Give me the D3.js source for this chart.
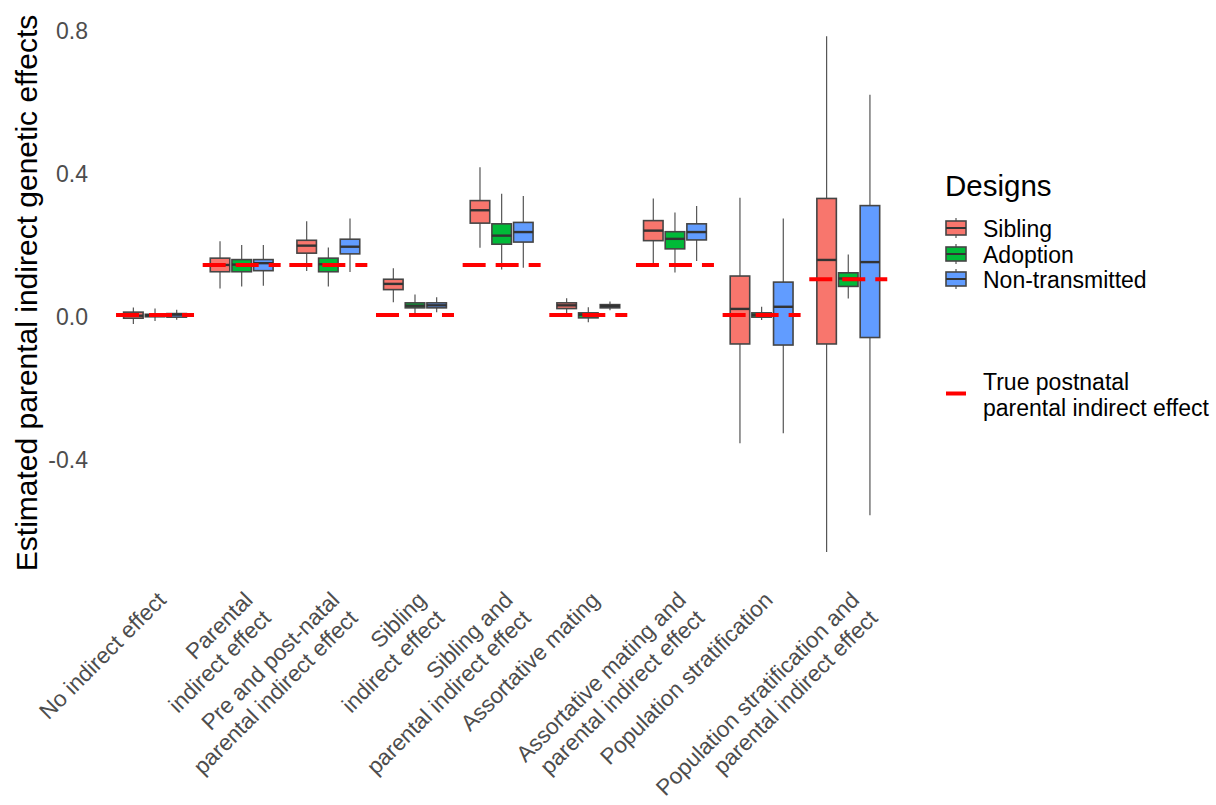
<!DOCTYPE html>
<meta charset="utf-8">
<style>
body { margin: 0; background: #fff; }
svg { font-family: "Liberation Sans", Arial, sans-serif; }
.tick text { fill: #4d4d4d; font-size: 23px; }
.xlab { fill: #4d4d4d; font-size: 22.5px; }
.legend text { fill: #000; }
</style>
<body>
<script src="https://cdn.jsdelivr.net/npm/d3@7"></script>
<script>

var width = 1216, height = 805;

// categories on the x axis (line breaks as in the original labels)
var categories = [
  "No indirect effect",
  "Parental\nindirect effect",
  "Pre and post-natal\nparental indirect effect",
  "Sibling\nindirect effect",
  "Sibling and\nparental indirect effect",
  "Assortative mating",
  "Assortative mating and\nparental indirect effect",
  "Population stratification",
  "Population stratification and\nparental indirect effect"
];
var designs = ["Sibling", "Adoption", "Non-transmitted"];
var designColors = ["#F8766D", "#00BA38", "#619CFF"];

// true postnatal parental indirect effect per category
var trueEffect = [0, 0.14, 0.14, 0, 0.14, 0, 0.14, 0, 0.1];

// [lower whisker, Q1, median, Q3, upper whisker] per category
var siblingStats = [
  [-0.025, -0.009, -0.002, 0.008, 0.021],
  [0.074, 0.121, 0.140, 0.159, 0.206],
  [0.123, 0.173, 0.194, 0.209, 0.262],
  [0.036, 0.071, 0.087, 0.100, 0.131],
  [0.188, 0.257, 0.293, 0.320, 0.413],
  [0.004, 0.018, 0.027, 0.034, 0.047],
  [0.140, 0.208, 0.236, 0.264, 0.326],
  [-0.359, -0.081, 0.017, 0.109, 0.328],
  [-0.663, -0.081, 0.154, 0.326, 0.780]
];
var adoptionStats = [
  [-0.017, -0.005, -0.001, 0.002, 0.018],
  [0.080, 0.121, 0.141, 0.155, 0.196],
  [0.080, 0.121, 0.142, 0.159, 0.189],
  [0.004, 0.020, 0.026, 0.034, 0.057],
  [0.127, 0.198, 0.222, 0.255, 0.339],
  [-0.020, -0.008, 0.001, 0.006, 0.022],
  [0.119, 0.185, 0.213, 0.233, 0.287],
  [-0.014, -0.006, 0.000, 0.006, 0.023],
  [0.046, 0.080, 0.102, 0.118, 0.169]
];
var nonTransStats = [
  [-0.013, -0.006, 0.001, 0.004, 0.015],
  [0.082, 0.124, 0.145, 0.155, 0.196],
  [0.120, 0.171, 0.191, 0.212, 0.270],
  [0.008, 0.020, 0.027, 0.034, 0.050],
  [0.132, 0.204, 0.232, 0.259, 0.333],
  [0.013, 0.020, 0.025, 0.029, 0.038],
  [0.151, 0.210, 0.232, 0.255, 0.305],
  [-0.331, -0.084, 0.023, 0.092, 0.270],
  [-0.560, -0.063, 0.148, 0.306, 0.616]
];
var yTicks = [-0.4, 0, 0.4, 0.8];

var allStats = [siblingStats, adoptionStats, nonTransStats];

var svg = d3.select("body").append("svg")
    .attr("width", width)
    .attr("height", height);

svg.append("rect").attr("width", width).attr("height", height).attr("fill", "#fff");

var x = d3.scaleBand().domain(categories).range([111.7, 891.6]).padding(0),
    step = x.step(),
    xInner = d3.scaleBand().domain(designs).range([0, 0.75 * step]),
    boxW = xInner.bandwidth() * 0.9,
    y = d3.scaleLinear().domain([-0.4, 0.8]).range([458, 29]);

// flatten into box records
var boxes = [];
categories.forEach(function(c, i) {
  designs.forEach(function(d, j) {
    var s = allStats[j][i];
    boxes.push({cat: c, design: d, color: designColors[j],
      lo: s[0], q1: s[1], med: s[2], q3: s[3], hi: s[4]});
  });
});

var bx = function(d) { return x(d.cat) + step * 0.125 + xInner(d.design) + xInner.bandwidth() / 2; };

var g = svg.selectAll(".box")
    .data(boxes)
  .enter().append("g")
    .attr("class", "box");

// whiskers
g.append("line")
    .attr("x1", bx).attr("x2", bx)
    .attr("y1", function(d) { return y(d.hi); })
    .attr("y2", function(d) { return y(d.q3); })
    .attr("stroke", "#555").attr("stroke-width", 1.2);
g.append("line")
    .attr("x1", bx).attr("x2", bx)
    .attr("y1", function(d) { return y(d.q1); })
    .attr("y2", function(d) { return y(d.lo); })
    .attr("stroke", "#555").attr("stroke-width", 1.2);

g.append("rect")
    .attr("x", function(d) { return bx(d) - boxW / 2; })
    .attr("y", function(d) { return y(d.q3); })
    .attr("width", boxW)
    .attr("height", function(d) { return Math.max(1, y(d.q1) - y(d.q3)); })
    .attr("fill", function(d) { return d.color; })
    .attr("stroke", "#454545").attr("stroke-width", 1.6);

g.append("line")
    .attr("x1", function(d) { return bx(d) - boxW / 2; })
    .attr("x2", function(d) { return bx(d) + boxW / 2; })
    .attr("y1", function(d) { return y(d.med); })
    .attr("y2", function(d) { return y(d.med); })
    .attr("stroke", "#333").attr("stroke-width", 2.4);

// true effect dashed lines (on top)
svg.selectAll(".truth")
    .data(categories)
  .enter().append("line")
    .attr("class", "truth")
    .attr("x1", function(d) { return x(d) + step * 0.05; })
    .attr("x2", function(d) { return x(d) + step * 0.95; })
    .attr("y1", function(d, i) { return y(trueEffect[i]); })
    .attr("y2", function(d, i) { return y(trueEffect[i]); })
    .attr("stroke", "#FF0000")
    .attr("stroke-width", 4)
    .attr("stroke-dasharray", "23,10");

// y axis
var yAxis = svg.append("g")
    .attr("transform", "translate(90,0)")
    .call(d3.axisLeft(y).tickValues(yTicks).tickSize(0).tickPadding(2)
      .tickFormat(function(d) { return d.toFixed(1); }));
yAxis.select(".domain").remove();
yAxis.selectAll("text").attr("dy", "0.43em").attr("font-family", null).attr("font-size", null);

svg.append("text")
    .attr("transform", "translate(37,293) rotate(-90)")
    .attr("text-anchor", "middle")
    .attr("font-size", 30)
    .attr("fill", "#000")
    .text("Estimated parental indirect genetic effects");

// x labels, rotated 45 degrees, right aligned
var xl = svg.selectAll(".xlab")
    .data(categories)
  .enter().append("text")
    .attr("class", "xlab")
    .attr("text-anchor", "end")
    .attr("transform", function(d) {
      return "translate(" + (x(d) + step / 2 + 1) + ",590) rotate(-45)";
    });
xl.selectAll("tspan")
    .data(function(d) { return d.split("\n"); })
  .enter().append("tspan")
    .attr("x", 0)
    .attr("dy", function(d, i) { return i === 0 ? "0.72em" : "1.14em"; })
    .text(function(d) { return d; });

// legend
var legend = svg.append("g").attr("class", "legend");
legend.append("text")
    .attr("x", 945).attr("y", 196)
    .attr("font-size", 29.5)
    .text("Designs");

var rowY = [228, 254, 279];
var key = legend.selectAll(".key")
    .data(designs)
  .enter().append("g")
    .attr("transform", function(d, i) { return "translate(956," + rowY[i] + ")"; });
key.append("line")
    .attr("y1", -10).attr("y2", 10)
    .attr("stroke", "#555").attr("stroke-width", 1.2);
key.append("rect")
    .attr("x", -10).attr("y", -7).attr("width", 20).attr("height", 14)
    .attr("fill", function(d, i) { return designColors[i]; })
    .attr("stroke", "#454545").attr("stroke-width", 1.6);
key.append("line")
    .attr("x1", -10).attr("x2", 10)
    .attr("stroke", "#333").attr("stroke-width", 2);
key.append("text")
    .attr("x", 27).attr("dy", "0.37em")
    .attr("font-size", 23)
    .text(function(d) { return d; });

legend.append("line")
    .attr("x1", 946).attr("x2", 966)
    .attr("y1", 393.5).attr("y2", 393.5)
    .attr("stroke", "#FF0000").attr("stroke-width", 4);
legend.append("text")
    .attr("x", 983).attr("y", 390)
    .attr("font-size", 23)
    .text("True postnatal");
legend.append("text")
    .attr("x", 983).attr("y", 416)
    .attr("font-size", 23)
    .text("parental indirect effect");

</script>
</body>
